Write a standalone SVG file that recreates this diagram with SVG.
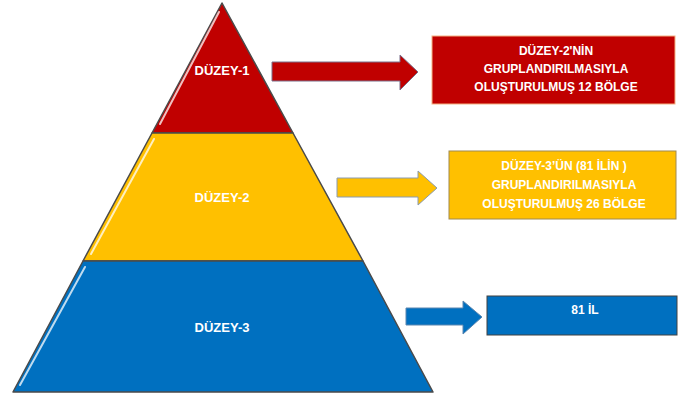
<svg xmlns="http://www.w3.org/2000/svg" width="678" height="396" viewBox="0 0 678 396">
<defs>
<style>
.lvl{stroke:#4a4a4a;stroke-width:1.5;stroke-linejoin:round}
.hl{fill:none;stroke:#ffffff;stroke-opacity:0.75;stroke-width:2;stroke-linecap:round}
.t{font-family:"Liberation Sans",Arial,sans-serif;font-weight:bold;font-size:12px;fill:#ffffff;text-anchor:middle;dominant-baseline:central}
.lb{font-size:13px}
.arr{stroke-width:1}
</style>
</defs>
<rect width="678" height="396" fill="#ffffff"/>
<g id="level1">
<polygon class="lvl" points="222,3 293,133 152,133" fill="#C00000"/>
<path class="hl" d="M219,12 L160,124"/>
<text class="t lb" x="222" y="70">DÜZEY-1</text>
</g>
<g id="level2">
<polygon class="lvl" points="152,133 293,133 363,261 83,261" fill="#FFC000"/>
<path class="hl" d="M154,139 L91,254"/>
<text class="t lb" x="222" y="197">DÜZEY-2</text>
</g>
<g id="level3">
<polygon class="lvl" points="83,261 363,261 433,392 13,392" fill="#0070C0"/>
<path class="hl" d="M85,267 L20,385"/>
<text class="t lb" x="222" y="327">DÜZEY-3</text>
</g>
<g id="connectors">
<polygon class="arr" points="272,62 400,62 400,55 418,72 400,90 400,81 272,81" fill="#C00000" stroke="#7a6f8a"/>
<polygon class="arr" points="337,178 418,178 418,171 437,188 418,205 418,197 337,197" fill="#FFC000" stroke="#8a9bb0"/>
<polygon class="arr" points="406,308 463,308 463,301 482,317 463,334 463,325 406,325" fill="#0070C0" stroke="#5a86b0"/>
</g>
<g id="box1">
<rect x="432" y="36" width="243" height="68" fill="#C00000" stroke="#F4B183" stroke-width="1"/>
<text class="t" x="556" y="51">DÜZEY-2'NİN</text>
<text class="t" x="556" y="69">GRUPLANDIRILMASIYLA</text>
<text class="t" x="556" y="87">OLUŞTURULMUŞ 12 BÖLGE</text>
</g>
<g id="box2">
<rect x="449" y="151" width="227" height="68" fill="#FFC000" stroke="#a08a50" stroke-width="1"/>
<text class="t" x="564" y="166">DÜZEY-3’ÜN (81 İLİN )</text>
<text class="t" x="564" y="185">GRUPLANDIRILMASIYLA</text>
<text class="t" x="564" y="204">OLUŞTURULMUŞ 26 BÖLGE</text>
</g>
<g id="box3">
<rect x="487" y="296" width="190" height="39" fill="#0070C0" stroke="#404040" stroke-width="1"/>
<text class="t" x="585" y="310">81 İL</text>
</g>
</svg>
